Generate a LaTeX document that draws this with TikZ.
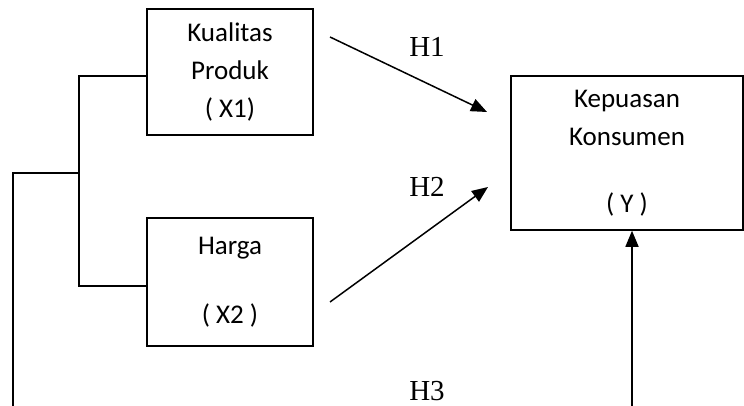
\documentclass[tikz,border=0pt]{standalone}
\usepackage{fontspec}
\usepackage{tikz}
\usetikzlibrary{arrows.meta,positioning}
\newfontfamily\boxfont{Carlito}
\newfontfamily\hypfont{Liberation Serif}

\begin{document}
\begin{tikzpicture}[
  x=1pt, y=-1pt,
  varbox/.style={draw, line width=1.5pt, align=center, inner sep=0pt,
    font=\boxfont\fontsize{27}{38}\selectfont},
  hyp/.style={font=\hypfont\fontsize{29}{32}\selectfont, inner sep=0pt},
  arr/.style={line width=1.5pt, -{Triangle[length=16pt,width=13pt]}},
  link/.style={line width=1.5pt}
]
\useasboundingbox (0,0) rectangle (744,406);
\node[varbox, minimum width=166pt, minimum height=126pt] (x1) at (230,72) {Kualitas\\Produk\\( X1)};
\node[varbox, minimum width=166pt, minimum height=128pt] (x2) at (230,282) {Harga\\[31pt]( X2 )};
\node[varbox, minimum width=232pt, minimum height=154pt] (y) at (627,153) {Kepuasan\\Konsumen\\[29pt]( Y )};
\node[hyp] (h1) at (427,47) {H1};
\node[hyp] (h2) at (427,187) {H2};
\node[hyp] (h3) at (427,391) {H3};
\coordinate (h1a) at (330,37);
\coordinate (h1b) at (487,112);
\coordinate (h2a) at (330,302);
\coordinate (h2b) at (488,187);
\coordinate (split) at (79,173);
\coordinate (left) at (13,173);
\coordinate (leftend) at (13,408);
\coordinate (yin) at (632,408);
\draw[arr] (h1a) -- (h1b);
\draw[arr] (h2a) -- (h2b);
\draw[arr] (yin) -- (yin |- y.south);
\draw[link] ([yshift=-4pt]x1.west) -| (split) |- ([yshift=-4pt]x2.west);
\draw[link] (split) -- (left) -- (leftend);
\end{tikzpicture}
\end{document}
